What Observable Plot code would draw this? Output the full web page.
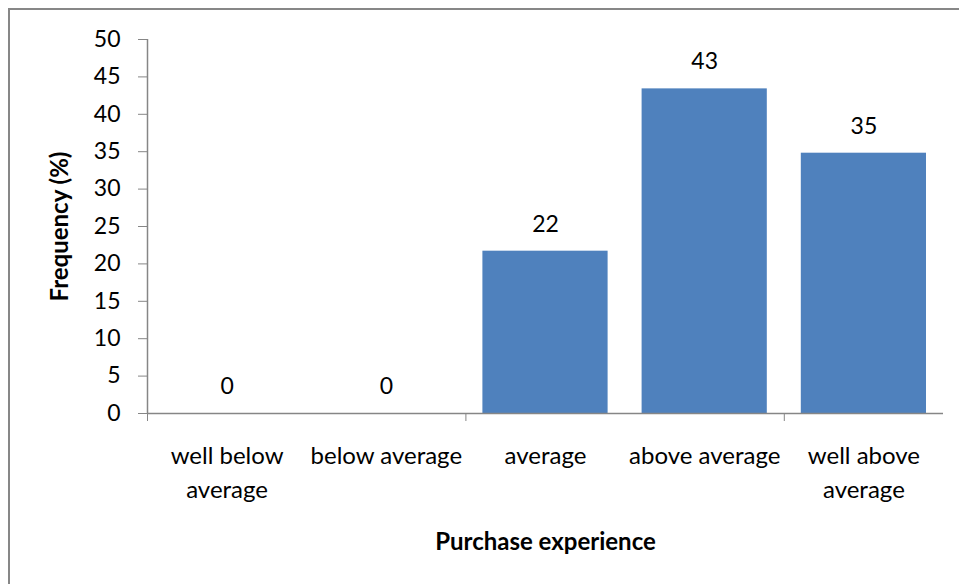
<!DOCTYPE html>
<html>
<head>
<meta charset="utf-8">
<script src="https://cdn.jsdelivr.net/npm/d3@7"></script>
<script src="https://cdn.jsdelivr.net/npm/@observablehq/plot@0.6"></script>
<style>
  html, body { margin: 0; padding: 0; background: #fff; overflow: hidden; }
  #wrap { position: relative; width: 959px; height: 584px; }
  #border { position: absolute; left: 8px; top: 8px; width: 1000px; height: 1000px;
            border: 2px solid #878787; pointer-events: none; box-sizing: border-box; }
</style>
</head>
<body>
<div id="wrap"><div id="border"></div></div>
<script>
const categories = ["well below average", "below average", "average", "above average", "well above average"];
const tickLabels = ["well below\naverage", "below average", "average", "above average", "well above\naverage"];
const values = [0, 0, 21.7, 43.4, 34.8];
const valueLabels = ["0", "0", "22", "43", "35"];
const yTicks = [0, 5, 10, 15, 20, 25, 30, 35, 40, 45, 50];
const xTickPositions = [0, 2, 4];
const xTitle = "Purchase experience";
const yTitle = "Frequency (%)";

const data = categories.map((c, i) => ({i, cat: c, label: tickLabels[i], v: values[i], vl: valueLabels[i]}));

const font = "Lato, 'Open Sans', sans-serif";
const axisColor = "#868686";

const chart = Plot.plot({
  width: 959,
  height: 584,
  marginLeft: 147,
  marginRight: 16,
  marginTop: 39,
  marginBottom: 171,
  style: {fontFamily: font, fontSize: "24px", background: "transparent", color: "#000"},
  x: {type: "linear", domain: [0, 5], axis: null},
  y: {domain: [0, 50], axis: null},
  marks: [
    Plot.rectY(data, {x1: "i", x2: d => d.i + 1, y: "v", fill: "#4f81bd", insetLeft: 17, insetRight: 17}),
    Plot.ruleX([0], {y1: 0, y2: 50, stroke: axisColor, strokeWidth: 1.5}),
    Plot.ruleY([0], {x1: 0, x2: 5, stroke: axisColor, strokeWidth: 1.5}),
    Plot.axisY({ticks: yTicks, tickSize: 9, tickPadding: 18, stroke: axisColor, fill: "#000", fontSize: 23, label: null}),
    Plot.axisX({ticks: xTickPositions, tickSize: 8, stroke: axisColor, tickFormat: () => "", label: null}),
    Plot.text(data, {x: d => d.i + 0.5, y: 0, text: "label", lineAnchor: "top", dy: 26, lineHeight: 1.42, fontSize: 24, fill: "#000"}),
    Plot.text(data, {x: d => d.i + 0.5, y: "v", text: "vl", dy: -27, fontSize: 23, fill: "#000"}),
    Plot.text([yTitle], {frameAnchor: "left", textAnchor: "middle", dx: -87, rotate: -90, fontWeight: "bold", fontSize: 24, fill: "#000"}),
    Plot.text([xTitle], {frameAnchor: "bottom", dy: 136, fontWeight: "bold", fontSize: 24, fill: "#000"})
  ]
});
document.getElementById("wrap").appendChild(chart);
</script>
</body>
</html>
